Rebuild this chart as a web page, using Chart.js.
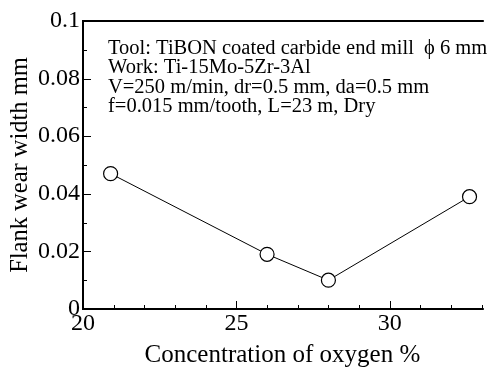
<!DOCTYPE html>
<html>
<head>
<meta charset="utf-8">
<script src="https://cdn.jsdelivr.net/npm/chart.js@4.4.1/dist/chart.umd.min.js"></script>
<style>
  html, body { margin: 0; padding: 0; background: #fff; }
  #wrap { width: 490px; height: 368px; }
</style>
</head>
<body>
<div id="wrap"><canvas id="wearChart" width="490" height="368"></canvas></div>
<script>
// data
const oxygen = [20.9, 26, 28, 32.6];
const flankWear = [0.047, 0.019, 0.010, 0.039];
const xTicks = [20, 25, 30];
const yTicks = [0, 0.02, 0.04, 0.06, 0.08, 0.1];
const noteLines = [
    'Tool: TiBON coated carbide end mill  \u03d5 6 mm',
    'Work: Ti-15Mo-5Zr-3Al',
    'V=250 m/min, dr=0.5 mm, da=0.5 mm',
    'f=0.015 mm/tooth, L=23 m, Dry'
];

const FONT = '"Liberation Serif", "Times New Roman", serif';

// frame, inward ticks and the condition note
const framePlugin = {
    id: 'frame',
    afterDraw(chart) {
        const { ctx, chartArea: a, scales: { x, y } } = chart;
        ctx.save();
        ctx.strokeStyle = '#000';
        ctx.lineWidth = 2;
        ctx.beginPath();
        ctx.moveTo(a.right + 2, a.top);
        ctx.lineTo(a.left, a.top);
        ctx.lineTo(a.left, a.bottom);
        ctx.lineTo(a.right + 2, a.bottom);
        ctx.stroke();

        ctx.lineWidth = 1;
        ctx.beginPath();
        for (let v = 21; v <= 33; v++) {
            const px = Math.round(x.getPixelForValue(v)) + 0.5;
            const len = v % 5 === 0 ? 8 : 4;
            ctx.moveTo(px, a.bottom);
            ctx.lineTo(px, a.bottom - len);
        }
        for (let i = 1; i < 10; i++) {
            const py = Math.round(y.getPixelForValue(i / 100)) + 0.5;
            const len = i % 2 === 0 ? 8 : 4;
            ctx.moveTo(a.left, py);
            ctx.lineTo(a.left + len, py);
        }
        ctx.stroke();

        ctx.fillStyle = '#000';
        ctx.font = '20.5px ' + FONT;
        ctx.textBaseline = 'alphabetic';
        noteLines.forEach((line, i) => {
            ctx.fillText(line, a.left + 25, a.top + 32.5 + i * 19.5);
        });
        ctx.restore();
    }
};

new Chart(document.getElementById('wearChart'), {
    type: 'scatter',
    data: {
        datasets: [{
            data: oxygen.map((v, i) => ({ x: v, y: flankWear[i] })),
            showLine: true,
            borderColor: '#000',
            borderWidth: 1,
            pointRadius: 7,
            pointBorderWidth: 1.2,
            pointBackgroundColor: '#fff',
            pointBorderColor: '#000'
        }]
    },
    options: {
        responsive: false,
        animation: false,
        layout: { padding: { top: 21, right: 0, left: 0, bottom: 0 } },
        plugins: { legend: { display: false }, tooltip: { enabled: false } },
        scales: {
            x: {
                type: 'linear',
                min: 20,
                max: 33,
                afterBuildTicks: s => { s.ticks = xTicks.map(v => ({ value: v })); },
                afterFit: s => { s.height = 59; },
                grid: { display: false, drawTicks: false },
                border: { display: false },
                ticks: { color: '#000', padding: 0, font: { family: FONT, size: 24 } },
                title: {
                    display: true,
                    text: 'Concentration of oxygen %',
                    color: '#000',
                    padding: { top: 0, bottom: 0 },
                    font: { family: FONT, size: 25, lineHeight: 1 }
                }
            },
            y: {
                min: 0,
                max: 0.1,
                afterBuildTicks: s => { s.ticks = yTicks.map(v => ({ value: v })); },
                afterFit: s => { s.width = 83; },
                grid: { display: false, drawTicks: false },
                border: { display: false },
                ticks: {
                    color: '#000',
                    padding: 3,
                    font: { family: FONT, size: 24 },
                    callback: v => String(v)
                },
                title: {
                    display: true,
                    text: 'Flank wear width mm',
                    color: '#000',
                    padding: { top: 6, bottom: 0 },
                    font: { family: FONT, size: 24.5 }
                }
            }
        }
    },
    plugins: [framePlugin]
});
</script>
</body>
</html>
